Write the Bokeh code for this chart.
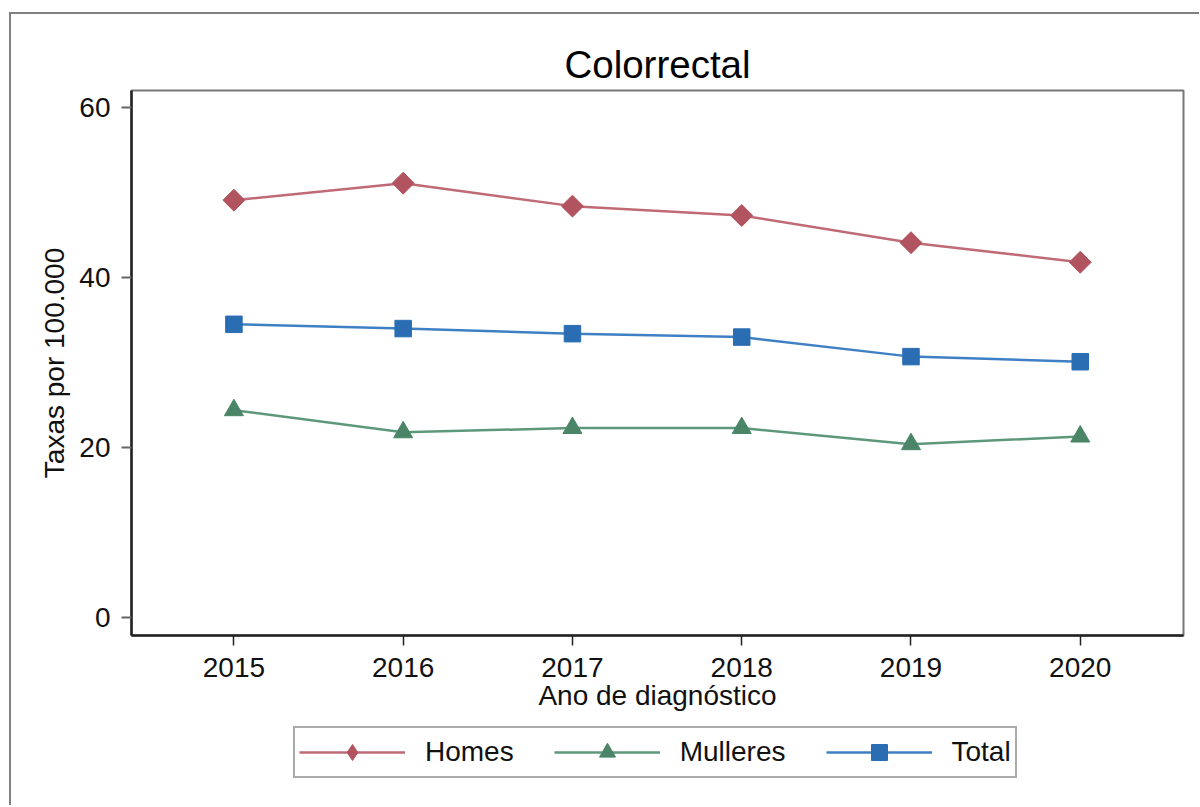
from bokeh.plotting import figure
from bokeh.layouts import column
from bokeh.models import FixedTicker, Legend, LegendItem, Title
from bokeh.embed import file_html
from bokeh.resources import INLINE
import math

years = [2015, 2016, 2017, 2018, 2019, 2020]
homes = [49.1, 51.1, 48.4, 47.3, 44.1, 41.8]
mulleres = [24.4, 21.8, 22.3, 22.3, 20.4, 21.3]
total = [34.5, 34.0, 33.4, 33.0, 30.7, 30.1]
y_ticks = [0, 20, 40, 60]
series_names = ["Homes", "Mulleres", "Total"]

FONT = "Liberation Sans"

p = figure(frame_width=1052, frame_height=545, output_backend="svg", toolbar_location=None,
           x_range=(2014.395, 2020.61), y_range=(-2.1, 62.0),
           min_border_left=120, min_border_right=16, min_border_top=76, min_border_bottom=80)

p.title = Title(text="Colorrectal", align="center", text_font=FONT,
                text_font_size="38.5px", text_font_style="normal", text_color="#000000")

p.xgrid.visible = False
p.ygrid.visible = False
p.background_fill_color = "white"
p.border_fill_color = "white"
p.outline_line_color = "#777777"
p.outline_line_width = 2

for ax in (p.xaxis[0], p.yaxis[0]):
    ax.axis_line_color = "#222222"
    ax.axis_line_width = 2.5
    ax.major_tick_in = 0
    ax.major_tick_out = 10
    ax.minor_tick_line_color = None
    ax.major_label_text_font = FONT
    ax.major_label_text_font_size = "28px"
    ax.major_label_text_color = "#111111"
    ax.axis_label_text_font = FONT
    ax.axis_label_text_font_size = "28px"
    ax.axis_label_text_font_style = "normal"
    ax.axis_label_text_color = "#111111"

p.xaxis.ticker = FixedTicker(ticks=years)
p.yaxis.ticker = FixedTicker(ticks=y_ticks)
p.xaxis.major_tick_line_color = "#222222"
p.xaxis.major_tick_line_width = 1.5
p.yaxis.major_tick_line_color = "#666666"
p.yaxis.major_tick_line_width = 2
p.xaxis.major_label_standoff = 12
p.yaxis.major_label_standoff = 11
p.xaxis.axis_label = "Ano de diagnóstico"
p.yaxis.axis_label = "Taxas por 100.000"
p.xaxis.axis_label_standoff = 0
p.yaxis.axis_label_standoff = 6

c_h_line, c_h = "#C06A76", "#B2545F"
c_m_line, c_m = "#5E987A", "#4A8567"
c_t_line, c_t = "#3F80C4", "#2A6DB3"

p.line(years, homes, line_color=c_h_line, line_width=2.5)
p.scatter(years, homes, marker="square", angle=math.pi / 4, size=15.5,
          fill_color=c_h, line_color=c_h)
p.line(years, mulleres, line_color=c_m_line, line_width=2.5)
p.scatter(years, mulleres, marker="triangle", size=19,
          fill_color=c_m, line_color=c_m)
p.line(years, total, line_color=c_t_line, line_width=2.5)
p.scatter(years, total, marker="square", size=16.5,
          fill_color=c_t, line_color=c_t)

# legend strip below the chart: its renderers hold the same series but lie
# outside this strip's ranges, so only their legend glyphs are seen
lf = figure(width=1188, height=90, output_backend="svg", toolbar_location=None,
            title=None, x_axis_location=None, y_axis_location=None,
            x_range=(0, 1), y_range=(0, 1), min_border=0)
lf.xgrid.visible = False
lf.ygrid.visible = False
lf.outline_line_color = None
lf.background_fill_color = "white"
lf.border_fill_color = "white"

items = []
for name, vals, lc, mc, mk in zip(series_names, [homes, mulleres, total],
                                  [c_h_line, c_m_line, c_t_line],
                                  [c_h, c_m, c_t], ["diamond", "triangle", "square"]):
    r1 = lf.line(years, vals, line_color=lc, line_width=2.5)
    r2 = lf.scatter(years, vals, marker=mk, fill_color=mc, line_color=mc)
    items.append(LegendItem(label=name, renderers=[r1, r2]))

legend = Legend(items=items, orientation="horizontal", location=(162, 27))
legend.glyph_width = 106
legend.glyph_height = 40
legend.label_standoff = 20
legend.spacing = 40
legend.padding = 4
legend.margin = 0
legend.label_text_font = FONT
legend.label_text_font_size = "28px"
legend.label_text_color = "#111111"
legend.border_line_color = "#555555"
legend.border_line_width = 2
legend.background_fill_color = "white"
lf.add_layout(legend, "center")

layout = column(p, lf, spacing=0)
layout.styles = {"margin-left": "9px", "margin-top": "12px",
                 "border-left": "2px solid #808080", "border-top": "2px solid #808080"}

open("out.html", "w").write(file_html(layout, INLINE))
